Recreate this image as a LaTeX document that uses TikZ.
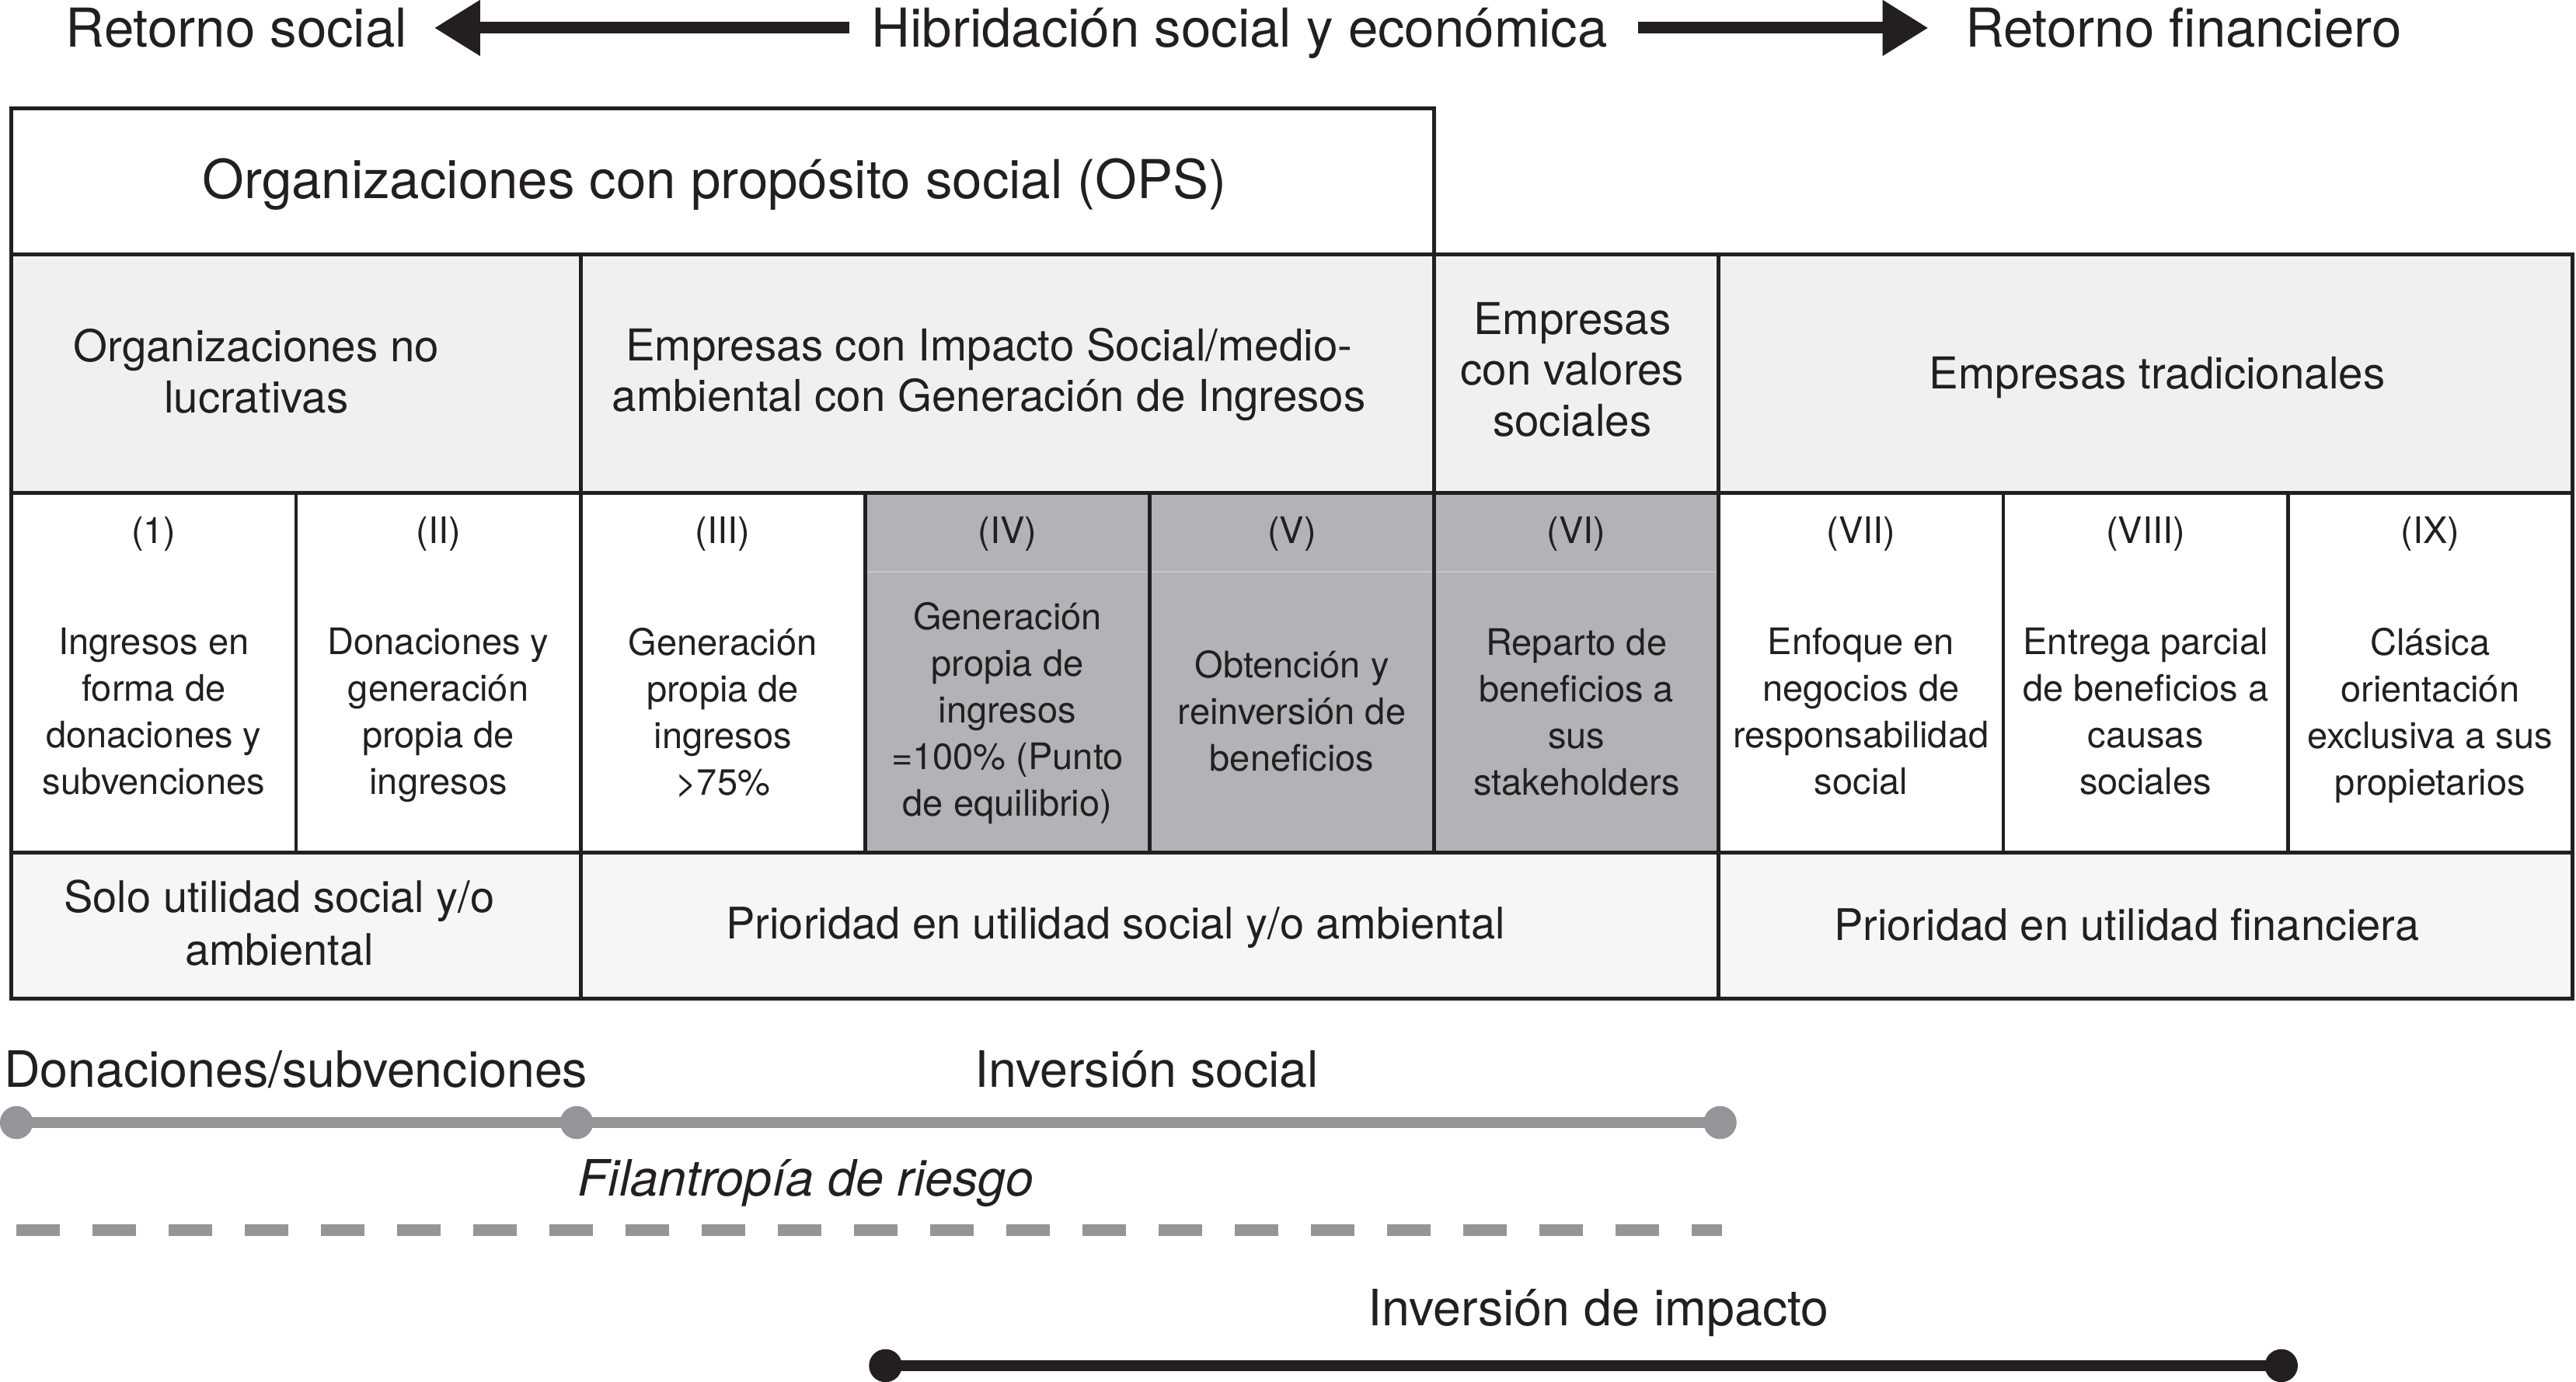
\documentclass[tikz,border=0pt]{standalone}
\usepackage{fontspec}
\setmainfont{TeX Gyre Heros}
\usetikzlibrary{arrows.meta}
\definecolor{ink}{HTML}{231F20}
\definecolor{lightfill}{HTML}{EFF1F1}
\definecolor{palefill}{HTML}{F6F6F6}
\definecolor{darkfill}{HTML}{B1B3B6}
\definecolor{midgray}{HTML}{939598}
\definecolor{faintline}{HTML}{C4C5C7}
\begin{document}
\begin{tikzpicture}[x=0.42284pt, y=-0.42284pt,
  toplbl/.style={inner sep=0pt, text=ink, font=\fontsize{13.8}{16}\selectfont, text height=9.9pt, text depth=0pt},
  bigarrow/.style={draw=ink, line width=3pt, -{Triangle[length=11.8pt,width=13.6pt]}},
  gridline/.style={draw=ink, line width=0.95pt},
  hdrtext/.style={inner sep=0pt, text=ink, align=center, font=\fontsize{11.3}{13.1}\selectfont},
  numtext/.style={inner sep=0pt, text=ink, align=center, font=\fontsize{9.4}{12}\selectfont},
  bodytext/.style={inner sep=0pt, text=ink, align=center, font=\fontsize{9.4}{12}\selectfont},
  prioritext/.style={inner sep=0pt, text=ink, align=center, font=\fontsize{11.2}{13.6}\selectfont},
  lowlbl/.style={inner sep=0pt, text=ink, anchor=base, font=\fontsize{12.9}{15}\selectfont},
  gdot/.style={circle, fill=midgray, draw=none, inner sep=0pt, minimum size=8.5pt},
  bdot/.style={circle, fill=ink, draw=none, inner sep=0pt, minimum size=8.5pt},
  grayseg/.style={draw=midgray, line width=2.8pt},
  blackseg/.style={draw=ink, line width=2.8pt}]
\useasboundingbox (0,0) rectangle (1568,841);

% ---- top header with arrows ----
\node[toplbl] (rs) at (144,17) {Retorno social};
\node[toplbl] (hib) at (754.5,17) {Hibridación social y económica};
\node[toplbl] (rf) at (1329,17) {Retorno financiero};
\draw[bigarrow, shorten <=5.5pt, shorten >=6.8pt] (hib.west) -- (rs.east);
\draw[bigarrow, shorten <=7.6pt, shorten >=9.3pt] (hib.east) -- (rf.west);

% ---- table fills ----
\fill[white] (7,66) rectangle (873,155);
\fill[lightfill] (7,155) rectangle (1565.8,300);
\fill[darkfill] (526.6,300) rectangle (1046.2,519);
\fill[palefill] (7,519) rectangle (1565.8,608);
\draw[faintline, line width=0.4pt] (526.6,348) -- (1046.2,348);

% ---- table grid ----
\draw[gridline] (7,66) rectangle (873,155);
\draw[gridline] (7,155) rectangle (1565.8,608);
\draw[gridline] (7,300) -- (1565.8,300);
\draw[gridline] (7,519) -- (1565.8,519);
\draw[gridline] (353.4,155) -- (353.4,608);
\draw[gridline] (1046.2,155) -- (1046.2,608);
\draw[gridline] (873,155) -- (873,519);
\foreach \xx in {180.2,526.6,699.8,1219.4,1392.6}
  \draw[gridline] (\xx,300) -- (\xx,519);

% ---- table texts ----
\node[toplbl] (ops) at (435,109) {Organizaciones con propósito social (OPS)};

\node[hdrtext] (h1) at (156,226) {Organizaciones no\\lucrativas};
\node[hdrtext] (h2) at (602,228) {Empresas con Impacto Social/medio-\\ambiental con Generación de Ingresos};
\node[hdrtext] (h3) at (957,225) {Empresas\\con valores\\sociales};
\node[hdrtext] (h4) at (1313,230) {Empresas tradicionales};

\node[numtext] (n1) at (93.6,325) {(1)};
\node[numtext] (n2) at (266.8,325) {(II)};
\node[numtext] (n3) at (440,325) {(III)};
\node[numtext] (n4) at (613.2,325) {(IV)};
\node[numtext] (n5) at (786.4,325) {(V)};
\node[numtext] (n6) at (959.6,325) {(VI)};
\node[numtext] (n7) at (1132.8,325) {(VII)};
\node[numtext] (n8) at (1306,325) {(VIII)};
\node[numtext] (n9) at (1479.2,325) {(IX)};

\node[bodytext] (b1) at (93.6,433) {Ingresos en\\forma de\\donaciones y\\subvenciones};
\node[bodytext] (b2) at (266.8,435.5) {Donaciones y\\generación\\propia de\\ingresos};
\node[bodytext] (b3) at (440,434) {Generación\\propia de\\ingresos\\>75\%};
\node[bodytext] (b4) at (613.2,434) {Generación\\propia de\\ingresos\\=100\% (Punto\\de equilibrio)};
\node[bodytext] (b5) at (786.4,433) {Obtención y\\reinversión de\\beneficios};
\node[bodytext] (b6) at (959.6,433.5) {Reparto de\\beneficios a\\sus\\stakeholders};
\node[bodytext] (b7) at (1132.8,433) {Enfoque en\\negocios de\\responsabilidad\\social};
\node[bodytext] (b8) at (1306,433) {Entrega parcial\\de beneficios a\\causas\\sociales};
\node[bodytext] (b9) at (1479.2,435.5) {Clásica\\orientación\\exclusiva a sus\\propietarios};

\node[prioritext] (p1) at (170,562) {Solo utilidad social y/o\\ambiental};
\node[prioritext] (p2) at (679,565) {Prioridad en utilidad social y/o ambiental};
\node[prioritext] (p3) at (1294.5,563) {Prioridad en utilidad financiera};

% ---- lower scales ----
\node[lowlbl, anchor=base west] (don) at (2,662) {Donaciones/subvenciones};
\node[lowlbl] (isoc) at (698,662) {Inversión social};
\node[lowlbl, font=\fontsize{12.9}{15}\selectfont\itshape] (fil) at (490.5,728) {Filantropía de riesgo};
\node[lowlbl] (iimp) at (973,807) {Inversión de impacto};

\draw[grayseg] (10,683.5) coordinate (gs) -- (1047,683.5) coordinate (ge);
\node[gdot] (g1) at (gs) {};
\node[gdot] (g2) at (351,683.5) {};
\node[gdot] (g3) at (ge) {};

\coordinate (ds) at (10,749);
\coordinate (de) at (1048,749);
\draw[draw=midgray, line width=3pt, dash pattern=on 11.2pt off 8.4pt] (ds) -- (de);

\draw[blackseg] (539,831.5) coordinate (bs) -- (1388.6,831.5) coordinate (be);
\node[bdot] (k1) at (bs) {};
\node[bdot] (k2) at (be) {};
\end{tikzpicture}
\end{document}
